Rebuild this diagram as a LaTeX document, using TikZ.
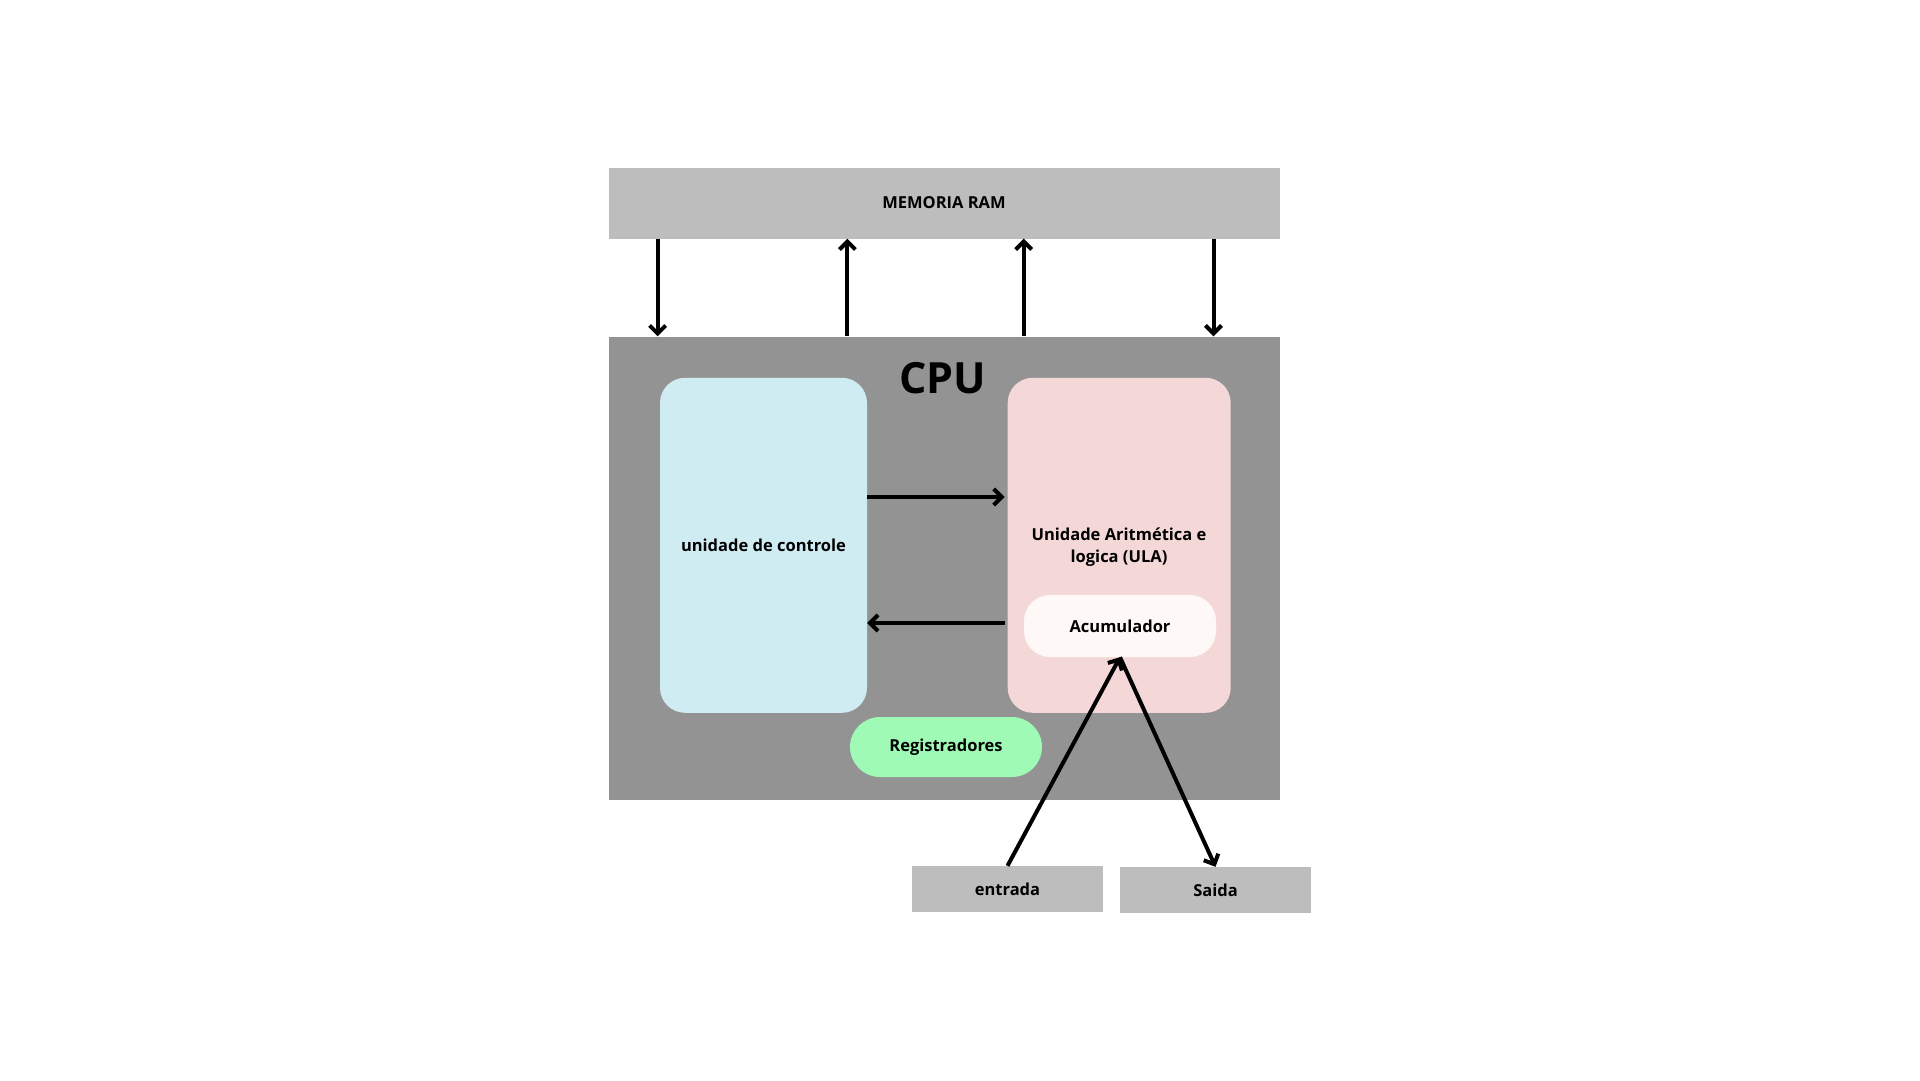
\documentclass[tikz,border=0pt]{standalone}
\usepackage{fontspec}
\setmainfont{Open Sans}
\usepackage{xcolor}
\usetikzlibrary{arrows.meta}

\definecolor{ramgray}{HTML}{BDBDBD}
\definecolor{cpugray}{HTML}{939393}
\definecolor{ucblue}{HTML}{CFECF3}
\definecolor{ulapink}{HTML}{F4D8D8}
\definecolor{acumwhite}{HTML}{FEF9F7}
\definecolor{reggreen}{HTML}{9FFAB6}

\begin{document}
\begin{tikzpicture} [x=1pt, y=-1pt,
					box/.style = {rectangle,
					    inner sep = 0pt,
					    align = center,
					    font = \fontsize{16.5}{22}\selectfont\bfseries},
					flow/.style = {line width = 4pt,
					    -{Straight Barb[length=8pt, width=16pt]}}]

					\useasboundingbox (0,0) rectangle (1920,1080);

					\node (ram) at (944,203) [box, fill=ramgray, minimum width=671pt, minimum height=71pt] {MEMORIA RAM};
					\node (cpu) at (944,568) [box, fill=cpugray, minimum width=671pt, minimum height=463pt] {};
					\node (cpulabel) at (943,378) [font=\fontsize{43}{50}\selectfont\bfseries] {CPU};

					\node (uc) at (763.5,545.3) [box, fill=ucblue, rounded corners=25pt, minimum width=207pt, minimum height=335pt] {unidade de controle};
					\node (ula) at (1119.2,545.3) [box, fill=ulapink, rounded corners=25pt, minimum width=223pt, minimum height=335pt] {};
					\node (ulatext) at (1119,547.5) [box] {Unidade Aritmética e\\logica (ULA)};
					\node (acum) at (1120,626) [box, fill=acumwhite, rounded corners=26pt, minimum width=192pt, minimum height=62pt] {Acumulador};
					\node (reg) at (946,747) [box, fill=reggreen, rounded corners=30pt, minimum width=192pt, minimum height=60pt] {Registradores};

					\node (entrada) at (1007.5,889) [box, fill=ramgray, minimum width=191pt, minimum height=46pt] {entrada};
					\node (saida) at (1215.5,890) [box, fill=ramgray, minimum width=191pt, minimum height=46pt] {Saida};

					% memoria <-> cpu
					\draw [flow] (ram.south -| 657.6,0) -- (cpu.north -| 657.6,0);
					\draw [flow] (cpu.north -| 847.4,0) -- (ram.south -| 847.4,0);
					\draw [flow] (cpu.north -| 1023.7,0) -- (ram.south -| 1023.7,0);
					\draw [flow] (ram.south -| 1213.5,0) -- (cpu.north -| 1213.5,0);

					% controle <-> ula
					\draw [flow, shorten >=3pt] (uc.east |- 0,497) -- (ula.west |- 0,497);
					\draw [flow, shorten <=3pt] (ula.west |- 0,623) -- (uc.east |- 0,623);

					% entrada / saida
					\draw [flow] (entrada.north) -- (acum.south);
					\draw [flow] (acum.south) -- (saida.north);
				\end{tikzpicture}
\end{document}
